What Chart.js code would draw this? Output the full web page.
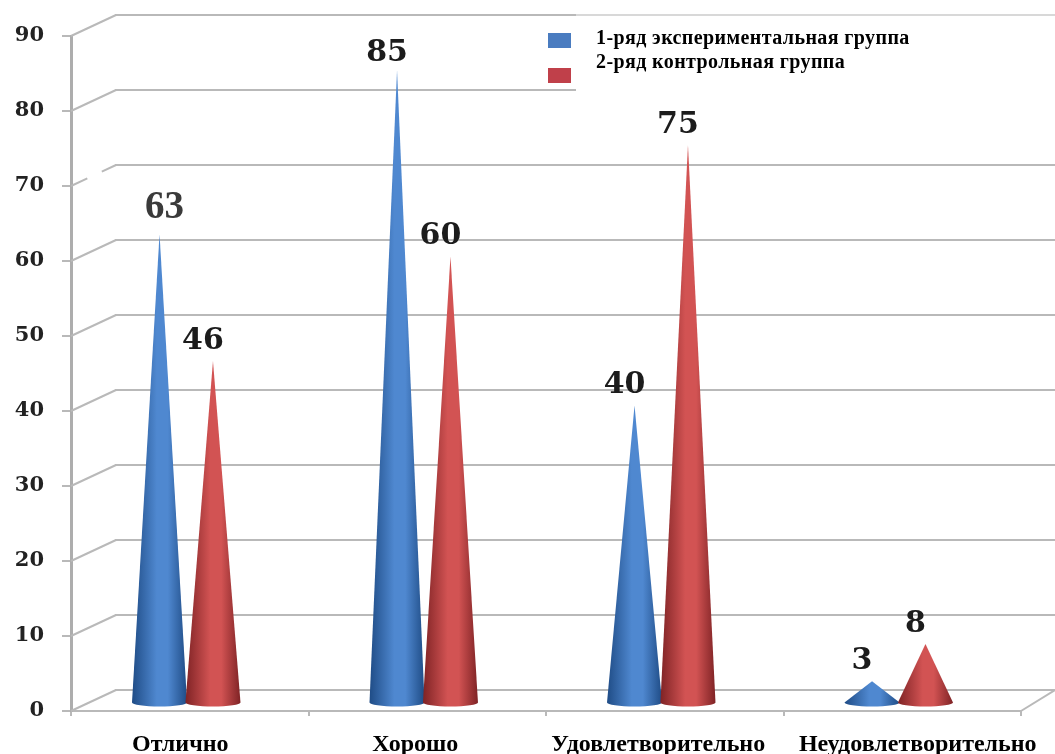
<!DOCTYPE html>
<html lang="ru">
<head>
<meta charset="utf-8">
<title>Chart</title>
<style>
  html, body { margin: 0; padding: 0; background: #fff; }
  #wrap { width: 1055px; height: 754px; }
</style>
<script src="https://cdn.jsdelivr.net/npm/chart.js@4"></script>
</head>
<body>
<div id="wrap"><canvas id="chart" width="1055" height="754"></canvas></div>
<script>
// ---------------------------------------------------------------------------
// Data
// ---------------------------------------------------------------------------
const categories = ["Отлично", "Хорошо", "Удовлетворительно", "Неудовлетворительно"];
const experimental = [63, 85, 40, 3];
const control = [46, 60, 75, 8];
const seriesNames = ["1-ряд экспериментальная группа", "2-ряд контрольная группа"];

// ---------------------------------------------------------------------------
// Look
// ---------------------------------------------------------------------------
const serif = "'Liberation Serif', 'Times New Roman', serif";
const wide = "'DejaVu Serif', serif";
const gridColor = "#b9b9b9";
const blue = { edge: "#1f4c86", mid: "#4f88d0", swatch: "#4a7cc0" };
const red = { edge: "#7f2325", mid: "#d25353", swatch: "#c0404a" };
const depthX = 45, depthY = 21;     // offset of the back wall
const coneShiftX = -3.5, coneShiftY = -7.5;
const labelNudge = [-9.5, -12, -6.5, 15.5];

// Back wall lines: front of the axis, up to the wall, across to the page edge
const wallPlugin = {
    id: "wall",
    beforeDatasetsDraw(chart) {
        const { ctx, scales: { x, y }, chartArea, width } = chart;
        ctx.save();
        ctx.strokeStyle = gridColor;
        ctx.lineWidth = 2;
        for (const t of y.ticks) {
            const py = y.getPixelForValue(t.value);
            // the diagonal at 70 is broken in the picture
            ctx.setLineDash(t.value === 70 ? [18, 16, 20] : []);
            ctx.beginPath();
            ctx.moveTo(chartArea.left, py);
            ctx.lineTo(chartArea.left + depthX, py - depthY);
            ctx.stroke();
            ctx.setLineDash([]);
            ctx.beginPath();
            ctx.moveTo(chartArea.left + depthX - 1, py - depthY);
            ctx.lineTo(width, py - depthY);
            ctx.stroke();
        }
        // floor edge on the right
        ctx.beginPath();
        ctx.moveTo(x.right, y.bottom);
        ctx.lineTo(width, y.bottom - depthY);
        ctx.stroke();

        // legend panel hides part of the wall, top line stays faint
        ctx.fillStyle = "#fff";
        ctx.fillRect(576, 17, width - 576, 79);
        ctx.fillStyle = "rgba(255,255,255,0.45)";
        ctx.fillRect(576, 13, width - 576, 4);
        ctx.restore();
    },
};

function drawCone(ctx, el, colors) {
    const cx = el.x + coneShiftX;
    const half = el.width / 2 + 0.8;
    const base = el.base + coneShiftY;
    const apex = base - (el.base - el.y) * 0.993;
    const ry = 4;

    const grad = ctx.createLinearGradient(cx - half, 0, cx + half, 0);
    grad.addColorStop(0, colors.edge);
    grad.addColorStop(0.45, colors.mid);
    grad.addColorStop(0.65, colors.mid);
    grad.addColorStop(1, colors.edge);

    ctx.fillStyle = grad;
    ctx.beginPath();
    ctx.moveTo(cx, apex);
    ctx.lineTo(cx + half, base);
    ctx.ellipse(cx, base, half, ry, 0, 0, Math.PI);
    ctx.closePath();
    ctx.fill();
}

function drawValue(ctx, el, value) {
    const base = el.base + coneShiftY;
    const apex = base - (el.base - el.y) * 0.993;
    const cx = el.x + coneShiftX;
    ctx.textAlign = "center";
    ctx.textBaseline = "middle";
    if (value === 63) {
        // this one sits differently in the picture
        ctx.font = "bold 39px " + serif;
        ctx.fillStyle = "#3a3a3a";
        ctx.fillText(value, cx + 5, apex - 26);
    } else {
        ctx.font = "bold 30px " + wide;
        ctx.fillStyle = "#1c1c1c";
        ctx.fillText(value, cx - 10, apex - (value === 85 ? 17 : 20));
    }
}

const conePlugin = {
    id: "cones",
    afterDatasetsDraw(chart) {
        const { ctx } = chart;
        const palettes = [blue, red];
        ctx.save();
        // left to right so the red cone overlaps its blue neighbour
        categories.forEach((_, i) => {
            chart.data.datasets.forEach((ds, d) => {
                drawCone(ctx, chart.getDatasetMeta(d).data[i], palettes[d]);
            });
        });
        chart.data.datasets.forEach((ds, d) => {
            chart.getDatasetMeta(d).data.forEach((el, i) => drawValue(ctx, el, ds.data[i]));
        });

        // legend
        ctx.fillStyle = blue.swatch;
        ctx.fillRect(548, 33, 23, 15);
        ctx.fillStyle = red.swatch;
        ctx.fillRect(548, 68, 23, 15);
        ctx.fillStyle = "#000";
        ctx.font = "bold 20px " + serif;
        ctx.letterSpacing = "0.4px";
        ctx.textAlign = "left";
        ctx.textBaseline = "middle";
        ctx.fillText(seriesNames[0], 596, 39);
        ctx.fillText(seriesNames[1], 596, 63);
        ctx.restore();
    },
};

// Category labels are not quite centred in the picture
const labelNudgePlugin = {
    id: "labelNudge",
    beforeDraw(chart) {
        const items = chart.scales.x.getLabelItems();
        items.forEach((item, i) => {
            if (!item.nudged) {
                item.options.translation[0] += labelNudge[i];
                item.nudged = true;
            }
        });
    },
};

// ---------------------------------------------------------------------------
// Chart
// ---------------------------------------------------------------------------
new Chart(document.getElementById("chart"), {
    type: "bar",
    data: {
        labels: categories,
        datasets: [
            { label: seriesNames[0], data: experimental, backgroundColor: "transparent" },
            { label: seriesNames[1], data: control, backgroundColor: "transparent" },
        ],
    },
    options: {
        responsive: false,
        animation: false,
        categoryPercentage: 0.45,
        barPercentage: 1,
        layout: { padding: { top: 36, right: 34, bottom: 0, left: 0 } },
        plugins: {
            legend: { display: false },
            tooltip: { enabled: false },
        },
        scales: {
            x: {
                afterFit: s => { s.height = 43; },
                border: { color: gridColor, width: 2 },
                grid: { drawOnChartArea: false, color: gridColor, lineWidth: 2, tickLength: 5 },
                ticks: {
                    autoSkip: false,
                    maxRotation: 0,
                    padding: 14,
                    color: "#000",
                    font: { family: serif, weight: "bold", size: 24 },
                },
            },
            y: {
                min: 0,
                max: 90,
                afterFit: s => { s.width = 71; },
                border: { color: "#adadad", width: 3 },
                grid: { drawOnChartArea: false, color: gridColor, lineWidth: 2, tickLength: 9 },
                ticks: {
                    stepSize: 10,
                    padding: 18,
                    color: "#222",
                    font: { family: wide, weight: "bold", size: 21 },
                },
            },
        },
    },
    plugins: [wallPlugin, conePlugin, labelNudgePlugin],
});
</script>
</body>
</html>
